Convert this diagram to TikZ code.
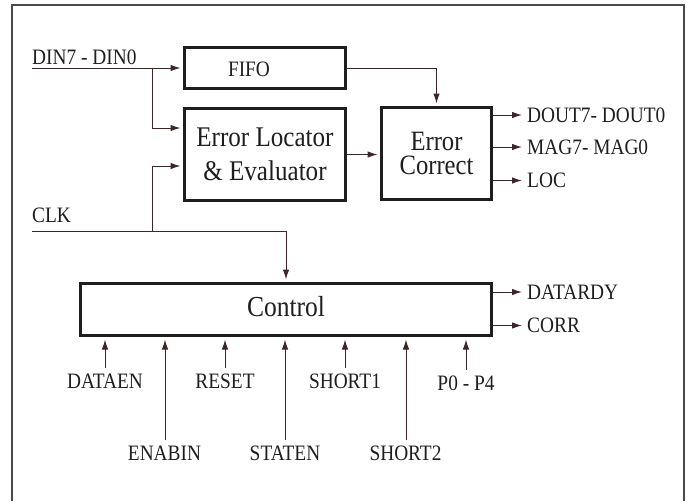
\documentclass[tikz,border=0pt]{standalone}
\usepackage{fontspec}
\setmainfont{Liberation Serif}[FakeStretch=0.88]
\usetikzlibrary{arrows.meta}
\definecolor{wire}{HTML}{3E2528}
\definecolor{frame}{HTML}{4A4A4A}
\definecolor{ink}{HTML}{1E1E1E}
\begin{document}
\begin{tikzpicture}[x=1pt,y=-1pt,
  box/.style={draw=ink,line width=3pt,inner sep=0pt,text=ink},
  conn/.style={draw=wire,line width=1pt,-{Latex[length=10pt,width=6.5pt]},shorten >=2.5pt},
  lbl/.style={font=\fontsize{22}{24}\selectfont,text=ink,inner sep=0pt}]
\useasboundingbox (0,0) rectangle (687,501);
\draw[frame,line width=1.4pt] (12,501) -- (12,5) -- (684,5) -- (684,501);
% boxes
\node[box,minimum width=161pt,minimum height=41pt] (fifo) at (265,68) {};
\node[lbl] (fifotxt) at (249,69) {FIFO};
\node[box,minimum width=161pt,minimum height=92pt,align=center,font=\fontsize{28.5}{34}\selectfont] (eloc) at (265,154.5) {Error Locator\\\& Evaluator};
\node[box,minimum width=110pt,minimum height=92pt,align=center,font=\fontsize{28}{23.5}\selectfont] (ec) at (436.5,153.5) {Error\\Correct};
\node[box,minimum width=411pt,minimum height=52pt,font=\fontsize{29}{30}\selectfont,text depth=6pt] (ctrl) at (286,309.5) {Control};
% input labels
\node[lbl,anchor=base west] (din) at (32,64) {DIN7 - DIN0};
\node[lbl,anchor=base west] (clk) at (32,222) {CLK};
\coordinate (dinin) at (32,68);
\coordinate (clkin) at (32,231);
\coordinate (j1) at (152,68);
\coordinate (j2) at (152,231);
\draw[conn] (dinin) -- (fifo.west);
\draw[conn] (j1) |- ([yshift=26.5pt]eloc.west);
\draw[draw=wire,line width=1pt] (clkin) -- (j2);
\draw[conn] (j2) -| (ctrl.north);
\draw[conn] (j2) |- ([yshift=-11.5pt]eloc.west);
\draw[conn] (fifo.east) -| (ec.north);
\draw[conn] (eloc.east) -- (eloc.east -| ec.west);
% outputs
\node[lbl,anchor=west] (dout) at (527,115) {DOUT7- DOUT0};
\node[lbl,anchor=west] (mag) at (527,147) {MAG7- MAG0};
\node[lbl,anchor=west] (loc) at (527,180.5) {LOC};
\node[lbl,anchor=west] (datardy) at (527,292) {DATARDY};
\node[lbl,anchor=west] (corr) at (527,325.5) {CORR};
\foreach \n in {dout,mag,loc}{
  \draw[conn,shorten >=5pt] (ec.east |- \n.west) -- (\n.west);
}
\foreach \n in {datardy,corr}{
  \draw[conn,shorten >=5pt] (ctrl.east |- \n.west) -- (\n.west);
}
% control inputs
\node[lbl] (dataen) at (105,381.5) {DATAEN};
\node[lbl] (reset) at (225,381.5) {RESET};
\node[lbl] (short1) at (345,381.5) {SHORT1};
\node[lbl] (pp) at (466,383.5) {P0 - P4};
\node[lbl] (enabin) at (164.5,453.5) {ENABIN};
\node[lbl] (staten) at (285,453.5) {STATEN};
\node[lbl] (short2) at (405.5,453.5) {SHORT2};
\foreach \n/\xx in {dataen/105,reset/225,short1/345,pp/466,enabin/165,staten/285,short2/406}{
  \draw[conn] ([yshift=6pt]\n.north -| \xx,0) -- (\xx,337);
}
\end{tikzpicture}
\end{document}
